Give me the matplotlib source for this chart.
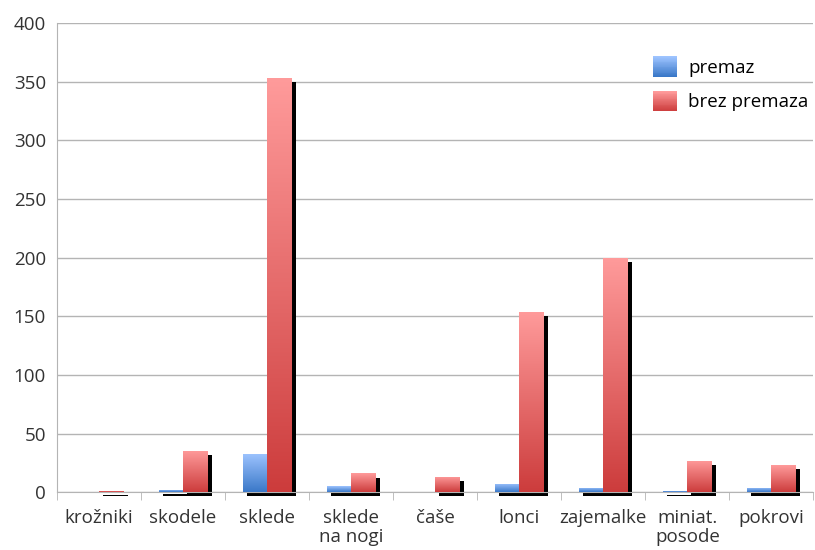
import numpy as np
import matplotlib
matplotlib.use("Agg")
import matplotlib.pyplot as plt
import matplotlib.patheffects as pe
from matplotlib.colors import LinearSegmentedColormap
from matplotlib.patches import Patch, Rectangle
from matplotlib.legend_handler import HandlerBase

plt.rcParams['font.family'] = ['Open Sans', 'DejaVu Sans']

categories = ["krožniki", "skodele", "sklede", "sklede\nna nogi", "čaše",
              "lonci", "zajemalke", "miniat.\nposode", "pokrovi"]
premaz = [0, 2, 33, 5, 0, 7, 4, 1, 4]
brez_premaza = [1, 35, 353, 16, 13, 154, 200, 27, 23]

blue_cmap = LinearSegmentedColormap.from_list("b", ["#3a78c8", "#9ec4ff"])
red_cmap = LinearSegmentedColormap.from_list("r", ["#cc3c3c", "#ff9b9b"])

fig = plt.figure(figsize=(8.15, 5.5), dpi=100)
ax = fig.add_axes([0.07, 0.105, 0.928, 0.853])

x = np.arange(len(categories))
w = 0.29
grad = np.linspace(0, 1, 256).reshape(-1, 1)


def gradient_bars(xpos, vals, cmap):
    bars = ax.bar(xpos, vals, w, color='none', edgecolor='none', zorder=3)
    for b in bars:
        if b.get_height() <= 0:
            continue
        # crna senca za stolpcem
        sh = Rectangle((b.get_x(), 0), b.get_width(), b.get_height(),
                       facecolor='none', edgecolor='none', zorder=2, clip_on=False)
        sh.set_path_effects([pe.SimplePatchShadow(offset=(3, -3), shadow_rgbFace='black', alpha=1.0)])
        ax.add_patch(sh)
        im = ax.imshow(grad, cmap=cmap, aspect='auto', origin='lower',
                       extent=[b.get_x(), b.get_x() + b.get_width(), 0, b.get_height()],
                       zorder=3)
        im.set_clip_path(b)
    return bars


gradient_bars(x - w / 2, premaz, blue_cmap)
gradient_bars(x + w / 2, brez_premaza, red_cmap)


class GradientHandler(HandlerBase):
    def __init__(self, cmap):
        super().__init__()
        self.cmap = cmap

    def create_artists(self, legend, orig_handle, xdescent, ydescent,
                       width, height, fontsize, trans):
        n = 24
        arts = []
        for i in range(n):
            r = Rectangle((-xdescent, -ydescent + height * i / n), width, height / n + 0.3,
                          facecolor=self.cmap(i / (n - 1)), edgecolor='none',
                          transform=trans)
            arts.append(r)
        return arts


ax.set_xlim(-0.5, len(categories) - 0.5)
ax.set_ylim(0, 400)
ax.set_yticks(range(0, 401, 50))
ax.yaxis.grid(True, color='#b4b4b4', linewidth=1)
ax.set_axisbelow(True)
for s in ['top', 'right']:
    ax.spines[s].set_visible(False)
ax.spines['left'].set_color('#b4b4b4')
ax.spines['bottom'].set_color('#b4b4b4')
ax.tick_params(axis='y', length=0, labelsize=13.5, colors='#333333', pad=8)
ax.set_xticks(x)
ax.set_xticklabels(categories, fontsize=13.5, color='#333333', linespacing=1.05)
ax.tick_params(axis='x', length=0, pad=12)
ax.set_xticks(np.arange(-0.5, len(categories), 1), minor=True)
ax.tick_params(axis='x', which='minor', length=6, color='#b4b4b4')

h1 = Patch(label='premaz')
h2 = Patch(label='brez premaza')
ax.legend(handles=[h1, h2], loc='upper left', bbox_to_anchor=(0.765, 0.965),
          frameon=False, fontsize=13.5, handlelength=1.3, handleheight=1.3,
          labelspacing=0.75, handletextpad=0.6,
          handler_map={h1: GradientHandler(blue_cmap), h2: GradientHandler(red_cmap)})

fig.savefig("out.png", dpi=100)
